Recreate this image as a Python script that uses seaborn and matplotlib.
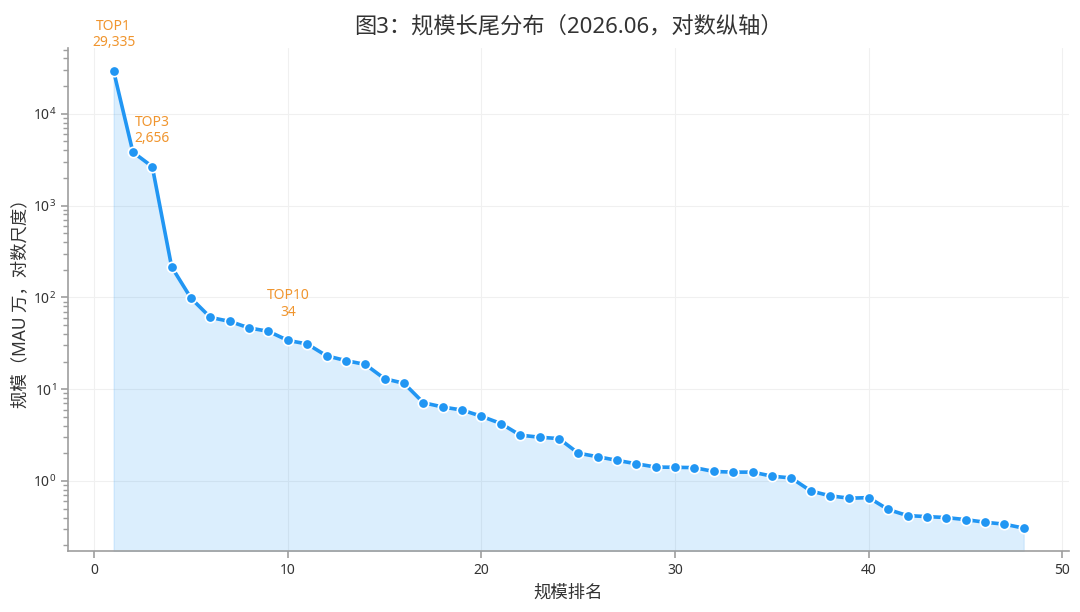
import numpy as np
import pandas as pd
import matplotlib
matplotlib.use("Agg")
import matplotlib.pyplot as plt
import seaborn as sns

# 规模排名与对应 MAU（万）
ranks = list(range(1, 49))
mau = [29335, 3820, 2656, 215, 98, 60.5, 54.8, 46.5, 42.7, 34,
       31.1, 23.1, 20.5, 18.6, 13.0, 11.6, 7.13, 6.40, 5.93, 5.07,
       4.23, 3.16, 3.00, 2.90, 2.01, 1.84, 1.68, 1.54, 1.42, 1.41,
       1.40, 1.27, 1.25, 1.25, 1.13, 1.08, 0.78, 0.69, 0.65, 0.66,
       0.49, 0.42, 0.41, 0.40, 0.38, 0.356, 0.339, 0.307]

# 需要标注的名次
highlight = [1, 3, 10]

df = pd.DataFrame({"rank": ranks, "mau": mau})

sns.set_theme(style="white")
plt.rcParams['font.family'] = ['Noto Sans', 'Noto Sans CJK SC', 'DejaVu Sans']
plt.rcParams['mathtext.fontset'] = 'custom'
plt.rcParams['mathtext.rm'] = 'Noto Sans'
plt.rcParams['mathtext.it'] = 'Noto Sans:italic'
plt.rcParams['mathtext.bf'] = 'Noto Sans:bold'
plt.rcParams['axes.unicode_minus'] = False

line_color = "#2196f3"
note_color = "#f0952e"
axis_color = "#9e9e9e"
text_color = "#333333"

fig, ax = plt.subplots(figsize=(10.8, 6.12), dpi=100)
fig.subplots_adjust(left=0.063, right=0.990, top=0.9216, bottom=0.0997)

ax.set_yscale("log")
sns.lineplot(data=df, x="rank", y="mau", ax=ax, color=line_color,
             linewidth=2.6, marker="o", markersize=7.5,
             markeredgecolor="white", markeredgewidth=1.2, zorder=3)

# 面积填充到坐标轴底部
ylo, yhi = ax.get_ylim()
ax.fill_between(df["rank"], df["mau"], ylo, color=line_color, alpha=0.16,
                linewidth=0.8, edgecolor=line_color, zorder=1)
ax.set_ylim(ylo, yhi)

for r in highlight:
    v = df.loc[df["rank"] == r, "mau"].iloc[0]
    ax.annotate(f"TOP{r}\n{v:,.0f}", xy=(r, v), xytext=(0, 15),
                textcoords="offset points", ha="center", va="bottom",
                fontsize=10, color=note_color, linespacing=1.1)

ax.set_title("图3：规模长尾分布（2026.06，对数纵轴）", fontsize=16,
             color=text_color, pad=11)
ax.set_xlabel("规模排名", fontsize=12.5, color=text_color, labelpad=4)
ax.set_ylabel("规模（MAU 万，对数尺度）", fontsize=12.5, color=text_color,
              labelpad=3)

ax.grid(True, which="major", color="#f0f0f0", linewidth=0.8)
ax.set_axisbelow(True)

for side in ["top", "right"]:
    ax.spines[side].set_visible(False)
for side in ["left", "bottom"]:
    ax.spines[side].set_color(axis_color)
    ax.spines[side].set_linewidth(1.2)

ax.tick_params(axis="both", which="major", direction="out", length=5,
               width=1.2, color=axis_color, labelsize=10,
               labelcolor=text_color, left=True, bottom=True)
ax.tick_params(axis="y", which="minor", direction="out", length=3.5,
               width=1.0, color=axis_color, left=True)

fig.savefig("out.png", dpi=100, facecolor="white")
